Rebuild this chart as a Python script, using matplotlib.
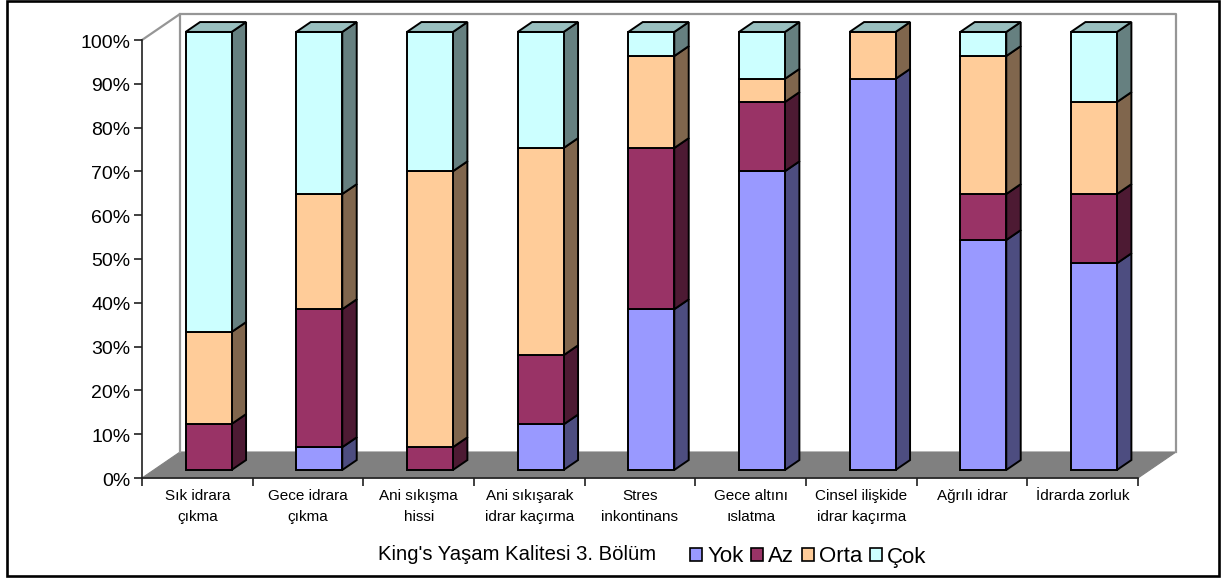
import numpy as np
import matplotlib
matplotlib.use("Agg")
import matplotlib.pyplot as plt
from matplotlib.patches import Polygon, Patch
from matplotlib.transforms import ScaledTranslation

plt.rcParams['font.family'] = ['Liberation Sans', 'DejaVu Sans']

# --- data ---
categories = ['Sık idrara\nçıkma', 'Gece idrara\nçıkma', 'Ani sıkışma\nhissi',
              'Ani sıkışarak\nidrar kaçırma', 'Stres\ninkontinans', 'Gece altını\nıslatma',
              'Cinsel ilişkide\nidrar kaçırma', 'Ağrılı idrar', 'İdrarda zorluk']
yok = [0, 5.2, 0, 10.4, 36.7, 68.2, 89.3, 52.5, 47.2]
az = [10.5, 31.5, 5.2, 15.8, 36.8, 15.8, 0, 10.5, 15.8]
orta = [21.0, 26.3, 63.0, 47.3, 21.0, 5.3, 10.7, 31.5, 21.0]
cok = [68.5, 37.0, 31.8, 26.5, 5.5, 10.7, 0, 5.5, 16.0]
series_names = ['Yok', 'Az', 'Orta', 'Çok']
yticks = [0, 10, 20, 30, 40, 50, 60, 70, 80, 90, 100]

face_colors = ['#9999FF', '#993366', '#FFCC99', '#CCFFFF']
side_colors = ['#4D4D80', '#4D1A33', '#80664D', '#668080']
top_color = '#99BFBF'

W, H = 1232, 581
fig = plt.figure(figsize=(W / 100, H / 100), dpi=100, facecolor='white')

# outer frame
fig.add_artist(plt.Rectangle((6.5 / W, 1 - 575.5 / H), 1212.5 / W, 575 / H, fill=False,
                             edgecolor='black', linewidth=1.9, transform=fig.transFigure))

# axes = front plane of the 3D box
ax = fig.add_axes([142 / W, 1 - 478 / H, 996 / W, 438 / H])
ax.set_xlim(0, 9)
ax.set_ylim(0, 100)
ax.patch.set_alpha(0)

PX_X = 996 / 9
PX_Y = 4.38
DX = 38 / PX_X   # depth shift of the whole box
DY = 26 / PX_Y
BAR_W = 46 / PX_X
D0, D1 = 0.31, 0.69  # bar position inside depth


def add_poly(pts, fc, ec='black', lw=1.4, z=2):
    ax.add_patch(Polygon(pts, closed=True, facecolor=fc, edgecolor=ec, linewidth=lw,
                         joinstyle='miter', clip_on=False, zorder=z))


# floor and walls
add_poly([(0, 0), (9, 0), (9 + DX, DY), (DX, DY)], '#808080', ec='#808080', lw=0.8, z=1)
wall = dict(color='#969696', linewidth=1.6, clip_on=False, zorder=1)
ax.plot([0, DX, DX], [100, 100 + DY, DY], **wall)
ax.plot([DX, 9 + DX, 9 + DX], [100 + DY, 100 + DY, DY], **wall)

# stacked bars
values = np.array([yok, az, orta, cok])
bottoms = np.vstack([np.zeros(9), np.cumsum(values, axis=0)[:-1]])
z = 3
for i in range(len(categories)):
    x0 = i + 0.5 - BAR_W / 2 + D0 * DX - 0.5 / PX_X
    x1 = x0 + BAR_W
    dx = (D1 - D0) * DX
    dy = (D1 - D0) * DY
    base = D0 * DY
    for s in range(4):
        v = values[s, i]
        if v == 0:
            continue
        y0 = bottoms[s, i] + base
        y1 = y0 + v
        add_poly([(x1, y0), (x1 + dx, y0 + dy), (x1 + dx, y1 + dy), (x1, y1)], side_colors[s], z=z)
        add_poly([(x0, y0), (x1, y0), (x1, y1), (x0, y1)], face_colors[s], z=z)
        z += 1
    # top cap
    y1 = base + values[:, i].sum()
    add_poly([(x0, y1), (x1, y1), (x1 + dx, y1 + dy), (x0 + dx, y1 + dy)], top_color, z=z)
    z += 1

# axes styling
for side in ['top', 'right']:
    ax.spines[side].set_visible(False)
for side in ['left', 'bottom']:
    ax.spines[side].set_color('#202020')
    ax.spines[side].set_linewidth(1.2)
    ax.spines[side].set_zorder(2)
ax.set_yticks(yticks)
ax.set_yticklabels([f'{t}%' for t in yticks], fontsize=14)
ax.tick_params(axis='y', length=6, width=1.2, color='#202020', pad=3)
nudge = ScaledTranslation(1 / 100, -1 / 100, fig.dpi_scale_trans)
for lab in ax.get_yticklabels():
    lab.set_transform(lab.get_transform() + nudge)
ax.set_xticks(np.arange(10))
ax.set_xticklabels([])
ax.tick_params(axis='x', which='major', length=6, width=1.2, color='#202020')
ax.set_xticks(np.arange(9) + 0.5, minor=True)
ax.set_xticklabels(categories, minor=True, fontsize=11, linespacing=1.6)
ax.tick_params(axis='x', which='minor', length=0, pad=8)

# bottom caption and legend
fig.text(378 / W, 1 - 555 / H, "King's Yaşam Kalitesi 3. Bölüm", fontsize=14.6, va='center', ha='left')
handles = [Patch(facecolor=c, edgecolor='black', linewidth=1.2) for c in face_colors]
fig.legend(handles, series_names, ncol=4, frameon=False, fontsize=16,
           loc='center left', bbox_to_anchor=(690 / W, 1 - 557 / H), borderaxespad=0, borderpad=0,
           handlelength=0.56, handleheight=0.56, handletextpad=0.22, columnspacing=0.33)

fig.savefig('out.png', dpi=100)
